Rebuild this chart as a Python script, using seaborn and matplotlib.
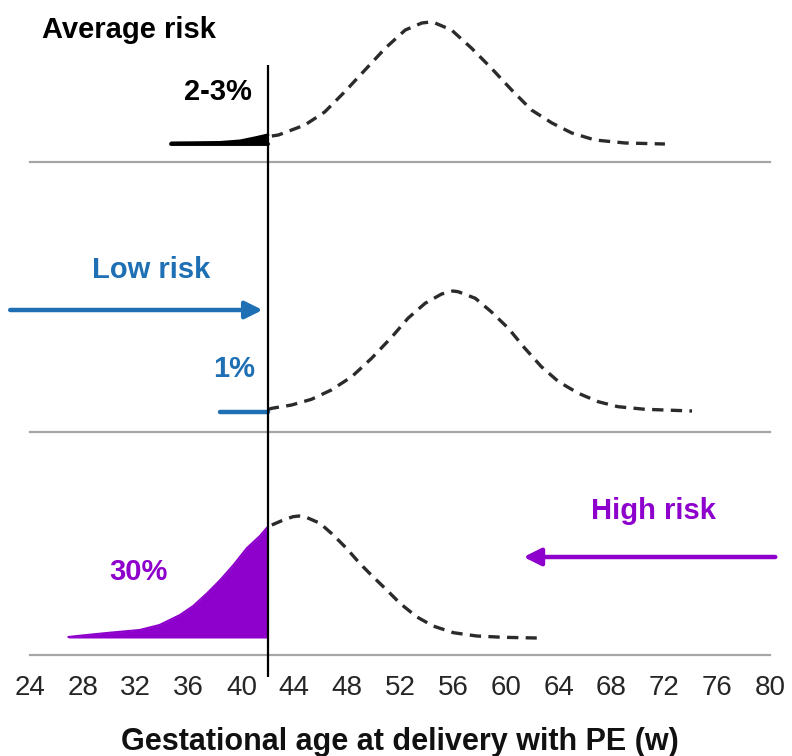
import matplotlib
matplotlib.use("Agg")
import matplotlib.pyplot as plt
import seaborn as sns

# ---------------- data ----------------
week_ticks = list(range(24, 81, 4))
cutoff_week = 42
x_label = "Gestational age at delivery with PE (w)"

# Average risk panel
avg_curve_weeks = [42.3, 42.8, 44.8, 46.3, 47.8, 49.35, 50.9, 52.4, 53.65, 54.3, 54.65,
                   55.9, 57.4, 58.9, 60.45, 61.95, 63.5, 65.0, 66.75, 69.05, 72.05]
avg_curve_height = [8, 9, 19, 32, 52, 74, 96, 114, 121, 122, 121,
                    114, 96, 76, 54, 34, 21, 11, 4, 1, 0]
avg_fill_weeks = [34.7, 36.5, 38.4, 39.9, 41.0, 42.0]
avg_fill_height = [1, 1.2, 1.5, 3, 6, 9]

# Low risk panel
low_curve_weeks = [42.0, 42.3, 43.8, 45.3, 46.8, 48.35, 49.85, 51.4, 52.6, 53.9, 55.15,
                   56.0, 56.4, 57.7, 58.9, 60.2, 61.45, 62.7, 64.0, 65.5, 67.0,
                   68.5, 70.55, 74.1]
low_curve_height = [2.5, 3.7, 7, 12.7, 22, 35.3, 53.7, 75.3, 93.7, 108.7, 118,
                    121, 120.3, 113.7, 100.3, 83.7, 63.7, 45.3, 30.3, 18.7, 10.3,
                    5.3, 2.7, 1]
low_line_weeks = [38.4, 42.0]
low_line_height = [0, 0]

# High risk panel
high_curve_weeks = [42.3, 43.05, 43.9, 44.35, 44.8, 45.95, 46.95, 47.95, 48.95, 49.95,
                    51.0, 52.0, 53.25, 54.5, 56.05, 57.8, 59.8, 62.35]
high_curve_height = [113, 117.3, 121.3, 122, 121.3, 114.7, 103, 89.7, 74.7, 61.3,
                     48, 34.7, 21.3, 12, 5.3, 2, 0.7, 0]
high_fill_weeks = [26.9, 28.3, 30.05, 32.3, 33.8, 35.35, 36.35, 37.4, 38.4, 39.4,
                   40.4, 41.4, 42.0]
high_fill_height = [1, 3, 5.3, 8, 13, 23, 32, 44.7, 58, 73, 89.7, 102, 111.3]

panel_titles = ["Average risk", "Low risk", "High risk"]
panel_pcts = ["2-3%", "1%", "30%"]

# ---------------- style ----------------
sns.set_theme(style="white")
plt.rcParams['font.family'] = ['Liberation Sans', 'DejaVu Sans']

BLUE = "#1f6fb4"
PURPLE = "#8e00cc"
DASH_COLOR = "#2b2b2b"
AXIS_GRAY = "#a6a6a6"
DASH = (0, (3.4, 2.2))

W, H = 792, 756
fig = plt.figure(figsize=(W / 100, H / 100), dpi=100)

left_px, right_px = 30, 770


def make_ax(top_px, bottom_px, base_px):
    ax = fig.add_axes([left_px / W, 1 - bottom_px / H,
                       (right_px - left_px) / W, (bottom_px - top_px) / H])
    ax.set_xlim(24, 80)
    ax.set_ylim(-(bottom_px - base_px), base_px - top_px)
    for s in ["top", "left", "right"]:
        ax.spines[s].set_visible(False)
    ax.spines["bottom"].set_color(AXIS_GRAY)
    ax.spines["bottom"].set_linewidth(1.6)
    ax.set_yticks([])
    ax.set_xticks(week_ticks)
    ax.tick_params(axis="x", direction="inout", length=5, width=1,
                   color=AXIS_GRAY, pad=12.0, labelsize=20, labelcolor="#262626")
    ax.patch.set_alpha(0)
    ax.set_xlabel("")
    return ax


ax1 = make_ax(0, 162, 144)
ax2 = make_ax(162, 432, 412)
ax3 = make_ax(432, 655, 638)
ax1.set_xticklabels([])
ax2.set_xticklabels([])

bold = dict(fontweight="bold", fontsize=21)

# ---- panel 1: average risk ----
ax1.fill_between(avg_fill_weeks, 0, avg_fill_height, color="black", lw=0)
sns.lineplot(x=avg_fill_weeks, y=avg_fill_height, color="black", lw=2.2, ax=ax1,
             estimator=None, sort=False)
sns.lineplot(x=avg_fill_weeks, y=[0] * len(avg_fill_weeks), color="black", lw=2.8, ax=ax1,
             estimator=None, sort=False)
sns.lineplot(x=avg_curve_weeks, y=avg_curve_height, color=DASH_COLOR, lw=2.4,
             linestyle=DASH, ax=ax1, estimator=None, sort=False)
ax1.get_lines()[-1].set_clip_on(False)
ax1.text(24.9, 105.7, panel_titles[0], ha="left", va="baseline", color="black", **bold)
ax1.text(40.8, 44, panel_pcts[0], ha="right", va="baseline", color="black", **bold)

# ---- panel 2: low risk ----
sns.lineplot(x=low_line_weeks, y=low_line_height, color=BLUE, lw=3.2, ax=ax2,
             estimator=None, sort=False)
sns.lineplot(x=low_curve_weeks, y=low_curve_height, color=DASH_COLOR, lw=2.4,
             linestyle=DASH, ax=ax2, estimator=None, sort=False)
ax2.annotate("", xy=(41.6, 102), xytext=(22.5, 102), xycoords="data",
             arrowprops=dict(arrowstyle="-|>", lw=3.2, color=BLUE,
                             mutation_scale=26, shrinkA=0, shrinkB=0),
             annotation_clip=False)
ax2.text(33.15, 134, panel_titles[1], ha="center", va="baseline", color=BLUE, **bold)
ax2.text(41.0, 35, panel_pcts[1], ha="right", va="baseline", color=BLUE, **bold)

# ---- panel 3: high risk ----
ax3.fill_between(high_fill_weeks, 0, high_fill_height, color=PURPLE, lw=0)
sns.lineplot(x=high_fill_weeks, y=high_fill_height, color=PURPLE, lw=1.5, ax=ax3,
             estimator=None, sort=False)
sns.lineplot(x=high_curve_weeks, y=high_curve_height, color=DASH_COLOR, lw=2.4,
             linestyle=DASH, ax=ax3, estimator=None, sort=False)
ax3.annotate("", xy=(61.35, 81), xytext=(80.4, 81), xycoords="data",
             arrowprops=dict(arrowstyle="-|>", lw=3.2, color=PURPLE,
                             mutation_scale=26, shrinkA=0, shrinkB=0),
             annotation_clip=False)
ax3.text(71.17, 118.7, panel_titles[2], ha="center", va="baseline", color=PURPLE, **bold)
ax3.text(32.2, 58, panel_pcts[2], ha="center", va="baseline", color=PURPLE, **bold)

for ax in (ax1, ax2, ax3):
    leg = ax.get_legend()
    if leg is not None:
        leg.remove()

# ---- vertical cut-off line through all panels ----
ax1.vlines(cutoff_week, -18, 144 - 65, color="black", lw=1.6, clip_on=False, zorder=5)
ax2.vlines(cutoff_week, -20, 250, color="black", lw=1.6, clip_on=False, zorder=5)
ax3.vlines(cutoff_week, -39, 206, color="black", lw=1.6, clip_on=False, zorder=5)

ax3.set_xlabel(x_label, fontsize=22, fontweight="bold", labelpad=18.5, color="#111111")

fig.savefig("out.png", dpi=100)
